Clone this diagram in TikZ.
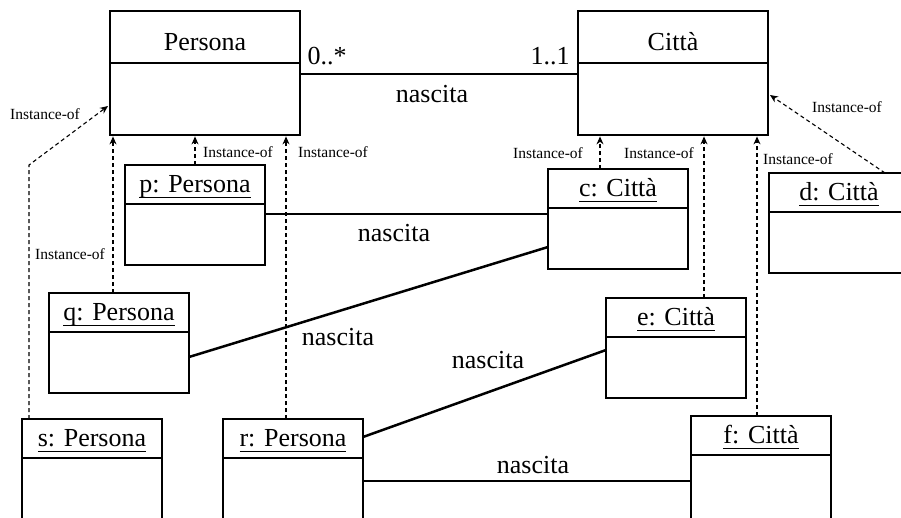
\documentclass[tikz,border=0pt]{standalone}
\usepackage{fontspec}
\setmainfont{Liberation Serif}
\usetikzlibrary{arrows.meta,positioning}

\newcommand{\objname}[1]{\underline{\smash{#1}\rule[-3pt]{0pt}{0pt}}}

\tikzset{
  box/.style={draw, line width=2.8pt, inner sep=0pt, outer sep=0pt},
  clshead/.style={box, minimum width=190pt, minimum height=52pt,
    text height=27pt, text depth=0pt, font=\fontsize{26}{30}\selectfont},
  clsbody/.style={box, minimum width=190pt, minimum height=72pt},
  objhead/.style={box, minimum width=140pt, minimum height=39pt,
    text height=17pt, text depth=1pt, font=\fontsize{26}{30}\selectfont},
  objbody/.style={box, minimum width=140pt, minimum height=61pt},
}

\begin{document}
\begin{tikzpicture}[x=1pt, y=-1pt,
    lbl/.style={font=\fontsize{26}{30}\selectfont, inner sep=0pt},
    small/.style={font=\fontsize{15.5}{18}\selectfont, inner sep=0pt},
    assoc/.style={line width=2.5pt},
    inst/.style={dash pattern=on 4pt off 3pt, line width=1.1pt,
      -{Stealth[length=8pt,width=7pt]}}]

  \useasboundingbox (0,0) rectangle (901,517);
  \clip (0,0) rectangle (901,517);

  % Classes
  \node[clshead, anchor=north west] (P) at (110,11) {Persona};
  \node[clsbody, below=0pt of P] (Pb) {};
  \node[clshead, anchor=north west] (C) at (578,11) {Città};
  \node[clsbody, below=0pt of C] (Cb) {};
  \coordinate (Pbot) at ([yshift=-1.4pt]Pb.south);
  \coordinate (Cbot) at ([yshift=-1.4pt]Cb.south);

  % Objects
  \node[objhead, anchor=north west] (p) at (125,165) {\objname{p: Persona}};
  \node[objbody, below=0pt of p] (pb) {};
  \node[objhead, anchor=north west] (q) at (49,293) {\objname{q: Persona}};
  \node[objbody, below=0pt of q] (qb) {};
  \node[objhead, anchor=north west] (s) at (22,419) {\objname{s: Persona}};
  \node[objbody, minimum height=75pt, below=0pt of s] (sb) {};
  \node[objhead, anchor=north west] (r) at (223,419) {\objname{r: Persona}};
  \node[objbody, minimum height=75pt, below=0pt of r] (rb) {};
  \node[objhead, anchor=north west] (c) at (548,169) {\objname{c: Città}};
  \node[objbody, below=0pt of c] (cb) {};
  \node[objhead, anchor=north west] (d) at (769,173) {\objname{d: Città}};
  \node[objbody, below=0pt of d] (db) {};
  \node[objhead, anchor=north west] (e) at (606,298) {\objname{e: Città}};
  \node[objbody, below=0pt of e] (eb) {};
  \node[objhead, anchor=north west] (f) at (691,416) {\objname{f: Città}};
  \node[objbody, minimum height=75pt, below=0pt of f] (fb) {};

  % Associations
  \draw[assoc] ([yshift=-11pt]Pb.north east) -- ([yshift=-11pt]Pb.north east -| Cb.west);
  \node[lbl] (m1) at (327,56) {0..*};
  \node[lbl] (m2) at (550,56) {1..1};
  \node[lbl] (n1) at (432,94) {nascita};

  \draw[assoc] ([yshift=-10pt]pb.north east) -- ([yshift=-10pt]pb.north east -| cb.west);
  \node[lbl] (n2) at (394,233) {nascita};
  \draw[assoc] ([yshift=-25pt]qb.north east) -- ([yshift=-39pt]cb.north west);
  \node[lbl] (n3) at (338,337) {nascita};
  \draw[assoc] ([yshift=-18pt]r.north east) -- ([yshift=-13pt]eb.north west);
  \node[lbl] (n4) at (488,360) {nascita};
  \draw[assoc] ([yshift=-23pt]rb.north east) -- ([yshift=-23pt]rb.north east -| fb.west);
  \node[lbl] (n5) at (533,465) {nascita};

  % Instance-of links
  \draw[inst] (p.north) -- (p.north |- Pbot);
  \node[small] (i1) at (238,152) {Instance-of};
  \draw[inst] ([xshift=-7pt]r.north) -- ([xshift=-7pt]r.north |- Pbot);
  \node[small] (i2) at (333,152) {Instance-of};
  \draw[inst] ([xshift=-6pt]q.north) -- ([xshift=-6pt]q.north |- Pbot);
  \node[small] (i3) at (70,254) {Instance-of};
  \coordinate (sbend) at (29,165);
  \draw[inst] ([xshift=7pt]s.north west) -- (sbend) -- ([xshift=-2pt,yshift=-7pt]Pb.west);
  \node[small] (i4) at (45,114) {Instance-of};

  \draw[inst] ([xshift=-18pt]c.north) -- ([xshift=-18pt]c.north |- Cbot);
  \node[small] (i5) at (548,153) {Instance-of};
  \draw[inst] ([xshift=28pt]e.north) -- ([xshift=28pt]e.north |- Cbot);
  \node[small] (i6) at (659,153) {Instance-of};
  \draw[inst] ([xshift=-4pt]f.north) -- ([xshift=-4pt]f.north |- Cbot);
  \node[small] (i7) at (798,159) {Instance-of};
  \draw[inst] ([xshift=116pt]d.north west) -- ([xshift=2pt,yshift=4pt]Cb.east);
  \node[small] (i8) at (847,107) {Instance-of};
\end{tikzpicture}
\end{document}
